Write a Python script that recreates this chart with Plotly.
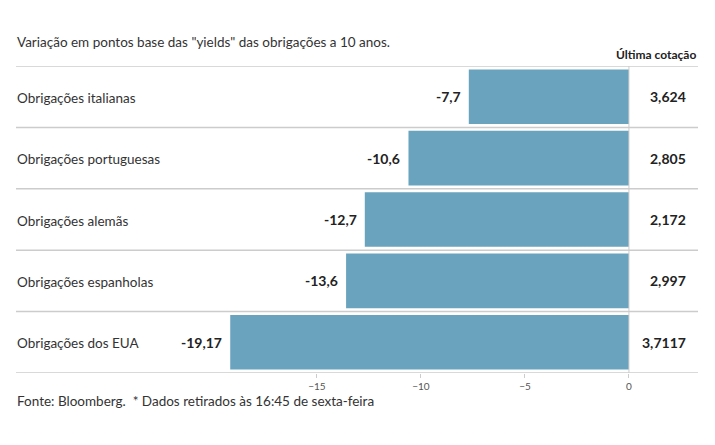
import plotly.graph_objects as go

categories = ["Obrigações italianas", "Obrigações portuguesas", "Obrigações alemãs",
              "Obrigações espanholas", "Obrigações dos EUA"]
variation = [-7.7, -10.6, -12.7, -13.6, -19.17]
last_quote = [3.624, 2.805, 2.172, 2.997, 3.7117]
tick_vals = [-15, -10, -5, 0]

def pt(v):
    return str(v).replace(".", ",")

FONT = "Lato"
BAR = "#6aa3be"
GRID = "#cccccc"

fig = go.Figure()
fig.add_trace(go.Bar(
    x=variation, y=list(range(len(categories))), orientation="h",
    marker=dict(color=BAR, line=dict(width=0)),
    width=0.89, hoverinfo="skip", showlegend=False,
))

shapes = []
for i in range(len(categories) + 1):
    shapes.append(dict(type="line", xref="paper", x0=0, x1=1, yref="y",
                       y0=i - 0.5, y1=i - 0.5, line=dict(color=GRID, width=1.5),
                       layer="below"))
shapes.append(dict(type="line", xref="x", x0=0, x1=0, yref="y", y0=-0.5, y1=4.5,
                   line=dict(color=GRID, width=1), layer="above"))
fig.update_layout(shapes=shapes)

ann = []
for i, (c, v, q) in enumerate(zip(categories, variation, last_quote)):
    ann.append(dict(x=0, xref="paper", y=i, yref="y", text=c, showarrow=False,
                    xanchor="left", xshift=-1, yshift=-1,
                    font=dict(family=FONT, size=13.5, color="#333")))
    ann.append(dict(x=v, xref="x", y=i, yref="y", text="<b>%s</b>" % pt(v), showarrow=False,
                    xanchor="right", xshift=-6, font=dict(family=FONT, size=14, color="#222")))
    ann.append(dict(x=1, xref="paper", y=i, yref="y", text="<b>%s</b>" % pt(q), showarrow=False,
                    xanchor="right", xshift=-10, font=dict(family=FONT, size=14, color="#222")))
ann.append(dict(x=1, xref="paper", y=1, yref="paper", yshift=2, yanchor="bottom",
                text="<b>Última cotação</b>", showarrow=False, xanchor="right",
                font=dict(family=FONT, size=12, color="#222")))
ann.append(dict(x=0, xref="paper", y=1, yref="paper", yshift=14, yanchor="bottom",
                text='Variação em pontos base das "yields" das obrigações a 10 anos.',
                showarrow=False, xanchor="left", xshift=-1,
                font=dict(family=FONT, size=13.5, color="#333")))
ann.append(dict(x=0, xref="paper", y=0, yref="paper", yshift=-38, yanchor="bottom",
                text="Fonte: Bloomberg.  * Dados retirados às 16:45 de sexta-feira",
                showarrow=False, xanchor="left", xshift=-1,
                font=dict(family=FONT, size=13.5, color="#333")))
fig.update_layout(annotations=ann)

fig.update_layout(
    width=715, height=445,
    margin=dict(l=16, r=17, t=66, b=72),
    plot_bgcolor="white", paper_bgcolor="white",
    separators=", ",
    xaxis=dict(range=[-29.47, 3.32], tickvals=tick_vals, showgrid=False, zeroline=False,
               ticks="outside", ticklen=4, tickcolor=GRID, showline=False,
               tickfont=dict(family=FONT, size=10, color="#555")),
    yaxis=dict(range=[4.5, -0.5], showticklabels=False, showgrid=False, zeroline=False,
               ticks=""),
)

fig.write_html("out.html")
